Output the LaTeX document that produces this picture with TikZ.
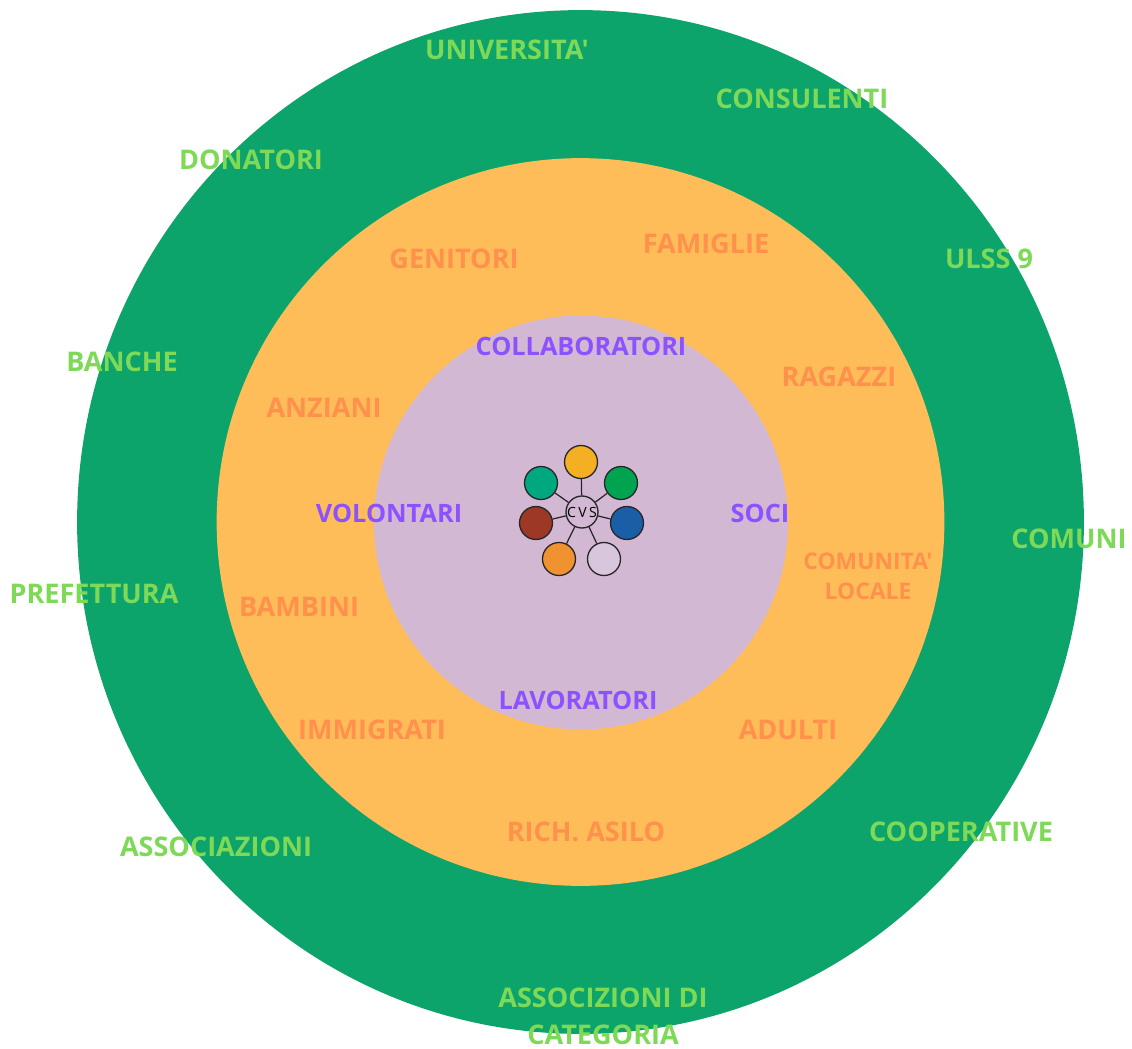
\documentclass[tikz,border=0pt]{standalone}
\usepackage{fontspec}
\setmainfont{Open Sans}[Ligatures=TeXOff]
\definecolor{ringout}{HTML}{0CA46A}
\definecolor{ringmid}{HTML}{FFBD59}
\definecolor{ringin}{HTML}{D2B8D3}
\definecolor{txtout}{HTML}{7ED957}
\definecolor{txtmid}{HTML}{FF914D}
\definecolor{txtin}{HTML}{8C52FF}
\usetikzlibrary{shapes.geometric}
\tikzset{
  ring/.style={circle,inner sep=0pt,minimum size=#1*0.04cm},
  outlabel/.style={text=txtout,inner sep=0pt,yshift=-0.02cm,font=\bfseries\fontsize{15.4}{21}\selectfont,align=center},
  midlabel/.style={text=txtmid,inner sep=0pt,yshift=-0.02cm,font=\bfseries\fontsize{15.4}{21}\selectfont,align=center},
  smalllabel/.style={text=txtmid,inner sep=0pt,font=\bfseries\fontsize{13}{17}\selectfont,align=center},
  inlabel/.style={text=txtin,inner sep=0pt,font=\bfseries\fontsize{14.4}{20}\selectfont,align=center},
  member/.style={circle,draw=black!85,line width=0.75pt,inner sep=0pt,minimum size=0.66cm},
  hub/.style={member,minimum size=0.64cm,font=\fontsize{8}{8}\selectfont},
}
\begin{document}
\begin{tikzpicture}[x=0.02cm,y=-0.02cm]
  \useasboundingbox (0,0) rectangle (1132,1048);
  \node[ellipse,inner sep=0pt,minimum width=20.14cm,minimum height=20.48cm,fill=ringout] (outer) at (580.5,522) {};
  \node[ring=364,fill=ringmid] (middle) at (580.5,522) {};
  \node[ring=207,fill=ringin] (inner) at (581,522.5) {};
  % members
  \node[hub] (cvs) at (582,512) {C\,V\,S};
  \node[member,fill={rgb,255:red,245;green,175;blue,35}] (m1) at (581,462) {};
  \node[member,fill={rgb,255:red,0;green,163;blue,80}] (m2) at (621,483) {};
  \node[member,fill={rgb,255:red,27;green,94;blue,168}] (m3) at (627,523) {};
  \node[member,fill={rgb,255:red,216;green,198;blue,220}] (m4) at (604,559) {};
  \node[member,fill={rgb,255:red,240;green,146;blue,48}] (m5) at (559,559) {};
  \node[member,fill={rgb,255:red,157;green,56;blue,38}] (m6) at (536,523) {};
  \node[member,fill={rgb,255:red,0;green,168;blue,128}] (m7) at (541,483) {};
  \foreach \m in {m1,m2,m3,m4,m5,m6,m7}
    \draw[black!85,line width=0.7pt] (cvs) -- (\m);
  % inner ring
  \node[inlabel] (collab) at (581,346) {COLLABORATORI};
  \node[inlabel] (volont) at (389,513) {VOLONTARI};
  \node[inlabel] (soci) at (760,513) {SOCI};
  \node[inlabel] (lavor) at (578,700) {LAVORATORI};
  % middle ring
  \node[midlabel] (genit) at (454,258) {GENITORI};
  \node[midlabel] (famig) at (706,243) {FAMIGLIE};
  \node[midlabel] (ragaz) at (839,376) {RAGAZZI};
  \node[midlabel] (anzia) at (324,407) {ANZIANI};
  \node[smalllabel] (comun) at (868,576) {COMUNITA'\\LOCALE};
  \node[midlabel] (bambi) at (299,606) {BAMBINI};
  \node[midlabel] (immig) at (372,729) {IMMIGRATI};
  \node[midlabel] (adult) at (788,729) {ADULTI};
  \node[midlabel] (asilo) at (586,831) {RICH. ASILO};
  % outer ring
  \node[outlabel] (univ) at (507,49) {UNIVERSITA'};
  \node[outlabel] (consu) at (802,98) {CONSULENTI};
  \node[outlabel] (donat) at (251,159) {DONATORI};
  \node[outlabel] (ulss) at (989,258) {ULSS 9};
  \node[outlabel] (banch) at (122,361) {BANCHE};
  \node[outlabel] (comuni) at (1069,538) {COMUNI};
  \node[outlabel] (prefe) at (94,593) {PREFETTURA};
  \node[outlabel] (assoc) at (216,846) {ASSOCIAZIONI};
  \node[outlabel] (coope) at (961,831) {COOPERATIVE};
  \node[outlabel] (categ) at (603,1015) {ASSOCIZIONI DI\\CATEGORIA};
\end{tikzpicture}
\end{document}
